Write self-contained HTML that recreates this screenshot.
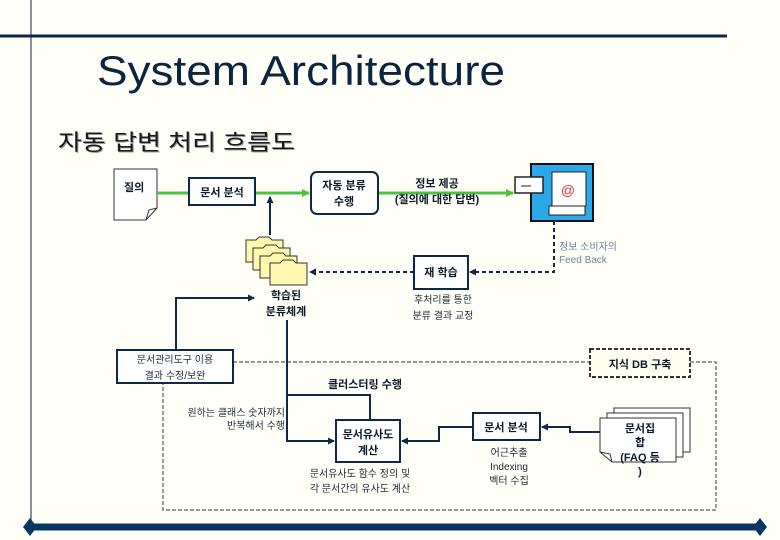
<!DOCTYPE html>
<html><head><meta charset="utf-8"><style>
html,body{margin:0;padding:0;background:#fffff7;}
svg{display:block;}
text{font-family:"Liberation Sans","Noto Sans CJK KR",sans-serif;}
.b{font-weight:bold;font-size:11px;fill:#0a1a2a;}
.n{font-size:10px;fill:#1a2a3a;}
</style></head><body>
<svg width="780" height="540" viewBox="0 0 780 540" xmlns="http://www.w3.org/2000/svg">
<defs>
<marker id="ag" markerWidth="8" markerHeight="8" refX="7" refY="4" orient="auto" markerUnits="userSpaceOnUse"><path d="M0,0 L8,4 L0,8z" fill="#4fc040"/></marker>
<marker id="ad" markerWidth="7" markerHeight="7" refX="6" refY="3.5" orient="auto" markerUnits="userSpaceOnUse"><path d="M0,0 L7,3.5 L0,7z" fill="#0c2a48"/></marker>
</defs>
<rect width="780" height="540" fill="#fffff7"/>
<line x1="31" y1="0" x2="31" y2="525" stroke="#0c2a48" stroke-width="1"/>
<line x1="0" y1="36" x2="727" y2="36" stroke="#0c2a48" stroke-width="3"/>
<line x1="30" y1="527" x2="760" y2="527" stroke="#073863" stroke-width="7"/>
<path d="M30,518 L37,527 L30,536 L23,527z" fill="#073863"/>
<path d="M760,518 L767,527 L760,536 L753,527z" fill="#073863"/>
<text x="97" y="85" font-size="42" fill="#0a2540" textLength="408" lengthAdjust="spacingAndGlyphs">System Architecture</text>
<text x="59" y="151" font-size="22" fill="#999" textLength="237" lengthAdjust="spacingAndGlyphs">자동 답변 처리 흐름도</text>
<text x="58" y="150" font-size="22" fill="#1a1a1a" textLength="237" lengthAdjust="spacingAndGlyphs">자동 답변 처리 흐름도</text>

<path d="M233,362 H590 M690,362 H716 V510 H163 V383" fill="none" stroke="#333" stroke-width="1" stroke-dasharray="4,2"/>
<rect x="590" y="349" width="100" height="28" fill="#fffff0" stroke="#333" stroke-width="2" stroke-dasharray="4,2"/>
<text x="640" y="368" text-anchor="middle" class="b" font-size="13">지식 DB 구축</text>

<path d="M114,169 H157 V208 L146,220 H114z" fill="#fff" stroke="#333"/>
<path d="M146,220 L149,210 L157,208" fill="none" stroke="#333"/>
<text x="124" y="191" class="b">질의</text>
<line x1="157" y1="193" x2="189" y2="193" stroke="#4fc040" stroke-width="3"/>
<line x1="255" y1="193" x2="309" y2="193" stroke="#4fc040" stroke-width="3" marker-end="url(#ag)"/>
<line x1="378" y1="193" x2="513" y2="193" stroke="#4fc040" stroke-width="3" marker-end="url(#ag)"/>
<rect x="189" y="178" width="66" height="27" fill="#fff" stroke="#0c2a48" stroke-width="2"/>
<text x="222" y="196" text-anchor="middle" class="b">문서 분석</text>
<rect x="311" y="172" width="67" height="42" rx="6" fill="#fff" stroke="#0c2a48" stroke-width="2"/>
<text x="344" y="189" text-anchor="middle" class="b">자동 분류</text>
<text x="344" y="205" text-anchor="middle" class="b">수행</text>
<text x="437" y="187" text-anchor="middle" class="b">정보 제공</text>
<text x="437" y="203" text-anchor="middle" class="b">(질의에 대한 답변)</text>
<rect x="531" y="164" width="62" height="57" fill="#2aa8e8" stroke="#111" stroke-width="2"/>
<rect x="552" y="172" width="34" height="34" fill="#fff" stroke="#222"/>
<rect x="549" y="206" width="36" height="9" fill="#fff" stroke="#222"/>
<text x="568" y="195" text-anchor="middle" font-size="14" fill="#e03030">@</text>
<rect x="515" y="177" width="28" height="16" fill="#fff" stroke="#222" stroke-width="1.5"/>
<line x1="521" y1="186" x2="531" y2="186" stroke="#222"/>
<line x1="270" y1="235" x2="270" y2="197" stroke="#0c2a48" stroke-width="2" marker-end="url(#ad)"/>
<g fill="#fff8b0" stroke="#333">
<path d="M246,240 h10 l3,-3 h10 l3,3 h11 v22 h-37z"/>
<path d="M253,248 h10 l3,-3 h10 l3,3 h11 v22 h-37z"/>
<path d="M260,256 h10 l3,-3 h10 l3,3 h11 v22 h-37z"/>
<path d="M270,263 h10 l3,-3 h10 l3,3 h11 v22 h-37z"/>
</g>
<text x="286" y="299" text-anchor="middle" class="b">학습된</text>
<text x="286" y="315" text-anchor="middle" class="b">분류체계</text>
<path d="M554,221 V272 H470" fill="none" stroke="#0c2a48" stroke-width="2" stroke-dasharray="4,3" marker-end="url(#ad)"/>
<path d="M414,272 H310" fill="none" stroke="#0c2a48" stroke-width="2" stroke-dasharray="4,3" marker-end="url(#ad)"/>
<rect x="414" y="256" width="54" height="33" fill="#fff" stroke="#0c2a48" stroke-width="2"/>
<text x="441" y="276" text-anchor="middle" class="b">재 학습</text>
<text x="559" y="250" font-size="10" fill="#6a86a0">정보 소비자의</text>
<text x="559" y="263" font-size="10" fill="#6a86a0">Feed Back</text>
<text x="443" y="303" text-anchor="middle" class="n">후처리를 통한</text>
<text x="443" y="319" text-anchor="middle" class="n">분류 결과 교정</text>
<path d="M176,350 V298 H254" fill="none" stroke="#0c2a48" stroke-width="2" marker-end="url(#ad)"/>
<rect x="117" y="350" width="116" height="33" fill="#fff" stroke="#0c2a48" stroke-width="2"/>
<text x="175" y="363" text-anchor="middle" class="n">문서관리도구 이용</text>
<text x="175" y="379" text-anchor="middle" class="n">결과 수정/보완</text>
<path d="M287,320 V441 H334" fill="none" stroke="#0c2a48" stroke-width="2" marker-end="url(#ad)"/>
<path d="M287,395 H370 V420" fill="none" stroke="#0c2a48" stroke-width="2"/>
<text x="365" y="388" text-anchor="middle" class="b">클러스터링 수행</text>
<text x="285" y="416" text-anchor="end" class="n">원하는 클래스 숫자까지</text>
<text x="285" y="429" text-anchor="end" class="n">반복해서 수행</text>
<rect x="336" y="420" width="64" height="42" fill="#fff" stroke="#0c2a48" stroke-width="2"/>
<text x="368" y="438" text-anchor="middle" class="b">문서유사도</text>
<text x="368" y="454" text-anchor="middle" class="b">계산</text>
<text x="360" y="477" text-anchor="middle" class="n">문서유사도 함수 정의 및</text>
<text x="360" y="492" text-anchor="middle" class="n">각 문서간의 유사도 계산</text>
<path d="M473,427 H439 V441 H402" fill="none" stroke="#0c2a48" stroke-width="2" marker-end="url(#ad)"/>
<rect x="473" y="413" width="67" height="27" fill="#fff" stroke="#0c2a48" stroke-width="2"/>
<text x="506" y="431" text-anchor="middle" class="b">문서 분석</text>
<text x="509" y="456" text-anchor="middle" class="n">어근추출</text>
<text x="509" y="470" text-anchor="middle" class="n">Indexing</text>
<text x="509" y="484" text-anchor="middle" class="n">벡터 수집</text>
<path d="M600,432 H570 V427 H542" fill="none" stroke="#0c2a48" stroke-width="2" marker-end="url(#ad)"/>
<rect x="614" y="408" width="76" height="44" fill="#fff" stroke="#333"/>
<rect x="607" y="413" width="76" height="44" fill="#fff" stroke="#333"/>
<path d="M600,418 H676 V462 H612 L600,452z" fill="#fff" stroke="#333"/>
<path d="M612,462 L610,454 L600,452" fill="none" stroke="#333"/>
<text x="640" y="432" text-anchor="middle" class="b">문서집</text>
<text x="640" y="446" text-anchor="middle" class="b">합</text>
<text x="640" y="461" text-anchor="middle" class="b">(FAQ 등</text>
<text x="640" y="475" text-anchor="middle" class="b">)</text>
</svg>
</body></html>
